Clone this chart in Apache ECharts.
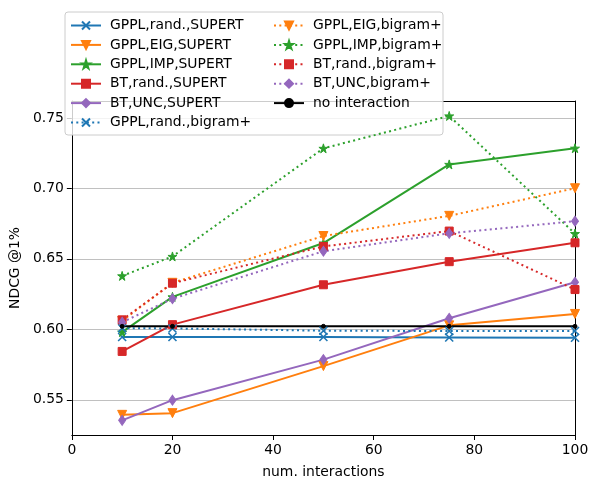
<!DOCTYPE html>
<html style="height: 100%">
<head>
    <meta charset="utf-8">
</head>
<body style="height: 100%; margin: 0; background: #fff">
    <div id="container" style="width: 597px; height: 484px"></div>
    <script src="https://cdn.jsdelivr.net/npm/echarts@6/dist/echarts.min.js"></script>
    <script type="text/javascript">
        var interactions = [10, 20, 50, 75, 100];

        var gpplRandSupert = [0.5945, 0.5945, 0.5945, 0.5942, 0.5940];
        var gpplEigSupert = [0.5393, 0.5405, 0.5739, 0.6028, 0.6109];
        var gpplImpSupert = [0.5980, 0.6230, 0.6612, 0.7170, 0.7285];
        var btRandSupert = [0.5843, 0.6033, 0.6316, 0.6480, 0.6614];
        var btUncSupert = [0.5354, 0.5497, 0.5785, 0.6078, 0.6334];
        var gpplRandBigram = [0.6008, 0.6006, 0.5990, 0.5988, 0.5988];
        var gpplEigBigram = [0.6060, 0.6330, 0.6662, 0.6805, 0.7001];
        var gpplImpBigram = [0.6379, 0.6517, 0.7284, 0.7514, 0.6679];
        var btRandBigram = [0.6067, 0.6327, 0.6588, 0.6697, 0.6282];
        var btUncBigram = [0.6050, 0.6217, 0.6554, 0.6681, 0.6767];
        var noInteraction = [0.6021, 0.6021, 0.6021, 0.6021, 0.6021];

        var legendLeft = ['GPPL,rand.,SUPERT', 'GPPL,EIG,SUPERT', 'GPPL,IMP,SUPERT',
            'BT,rand.,SUPERT', 'BT,UNC,SUPERT', 'GPPL,rand.,bigram+'];
        var legendRight = ['GPPL,EIG,bigram+', 'GPPL,IMP,bigram+', 'BT,rand.,bigram+',
            'BT,UNC,bigram+', 'no interaction'];

        var FONT = 'DejaVu Sans';
        var CROSS = 'path://M0,0L10,10M10,0L0,10';
        var STAR = 'path://M50,0L61,35L98,35L68,57L79,91L50,70L21,91L32,57L2,35L39,35Z';

        function pairs(ys) {
            return interactions.map(function (x, i) { return [x, ys[i]]; });
        }

        function line(name, ys, color, dotted, symbol, size, extra) {
            var s = {
                name: name,
                type: 'line',
                data: pairs(ys),
                symbol: symbol,
                symbolSize: size,
                lineStyle: { color: color, width: 2, type: dotted ? [2, 3.3] : 'solid' },
                itemStyle: { color: color, borderColor: color, borderWidth: 1 }
            };
            if (extra) Object.assign(s, extra);
            return s;
        }

        var crossStyle = { itemStyle: { color: '#1f77b4', borderColor: '#1f77b4', borderWidth: 1.6 } };
        var down = { symbolRotate: 180 };

        var dom = document.getElementById('container');
        var myChart = echarts.init(dom);

        var legendCommon = {
            orient: 'vertical',
            top: 18.5,
            itemWidth: 30,
            itemHeight: 10,
            itemGap: 5.4,
            padding: 0,
            selectedMode: false,
            textStyle: { fontFamily: FONT, fontSize: 13.9, color: '#000', padding: [0, 0, 0, 4] }
        };

        var spine = { show: true, onZero: false, lineStyle: { color: '#000', width: 1 } };

        var option = {
            animation: false,
            backgroundColor: '#fff',
            grid: { left: 70, right: 22, top: 101, bottom: 41 },
            graphic: [{
                type: 'rect',
                z: 3,
                shape: { x: 65, y: 12, width: 378, height: 123, r: 3 },
                style: { fill: 'rgba(255,255,255,0.8)', stroke: '#cccccc', lineWidth: 1 }
            }],
            legend: [
                Object.assign({ left: 70, data: legendLeft, z: 4 }, legendCommon),
                Object.assign({ left: 273, data: legendRight, z: 4 }, legendCommon)
            ],
            xAxis: [{
                type: 'value',
                min: 0,
                max: 100,
                interval: 20,
                name: 'num. interactions',
                nameLocation: 'middle',
                nameGap: 30,
                nameTextStyle: { fontFamily: FONT, fontSize: 13.9, color: '#000' },
                axisLine: spine,
                axisTick: { inside: false, length: 5, lineStyle: { color: '#000' } },
                axisLabel: { fontFamily: FONT, fontSize: 13.9, color: '#000', margin: 8 },
                splitLine: { show: false }
            }, {
                type: 'value',
                position: 'top',
                min: 0,
                max: 100,
                axisLine: spine,
                axisTick: { show: false },
                axisLabel: { show: false },
                splitLine: { show: false }
            }],
            yAxis: [{
                type: 'value',
                position: 'left',
                min: 0.525,
                max: 0.762,
                splitNumber: 5,
                name: 'NDCG @1%',
                nameLocation: 'middle',
                nameGap: 40,
                nameTextStyle: { fontFamily: FONT, fontSize: 13.9, color: '#000' },
                axisLine: spine,
                axisTick: { show: true, length: 5, lineStyle: { color: '#000' } },
                axisLabel: {
                    fontFamily: FONT, fontSize: 13.9, color: '#000', margin: 8,
                    showMinLabel: false, showMaxLabel: false,
                    formatter: function (v) { return v.toFixed(2); }
                },
                splitLine: { show: true, lineStyle: { color: '#b0b0b0', width: 0.8 } }
            }, {
                type: 'value',
                position: 'right',
                min: 0.525,
                max: 0.762,
                axisLine: spine,
                axisTick: { show: false },
                axisLabel: { show: false },
                splitLine: { show: false }
            }],
            series: [
                line('GPPL,rand.,SUPERT', gpplRandSupert, '#1f77b4', false, CROSS, 8, crossStyle),
                line('GPPL,EIG,SUPERT', gpplEigSupert, '#ff7f0e', false, 'triangle', 9, down),
                line('GPPL,IMP,SUPERT', gpplImpSupert, '#2ca02c', false, STAR, 9),
                line('BT,rand.,SUPERT', btRandSupert, '#d62728', false, 'rect', 8),
                line('BT,UNC,SUPERT', btUncSupert, '#9467bd', false, 'diamond', [7, 10]),
                line('GPPL,rand.,bigram+', gpplRandBigram, '#1f77b4', true, CROSS, 8, crossStyle),
                line('GPPL,EIG,bigram+', gpplEigBigram, '#ff7f0e', true, 'triangle', 9, down),
                line('GPPL,IMP,bigram+', gpplImpBigram, '#2ca02c', true, STAR, 9),
                line('BT,rand.,bigram+', btRandBigram, '#d62728', true, 'rect', 8),
                line('BT,UNC,bigram+', btUncBigram, '#9467bd', true, 'diamond', [7, 10]),
                line('no interaction', noInteraction, '#000000', false, 'circle', 4)
            ]
        };

        myChart.setOption(option);
    </script>
</body>
</html>
